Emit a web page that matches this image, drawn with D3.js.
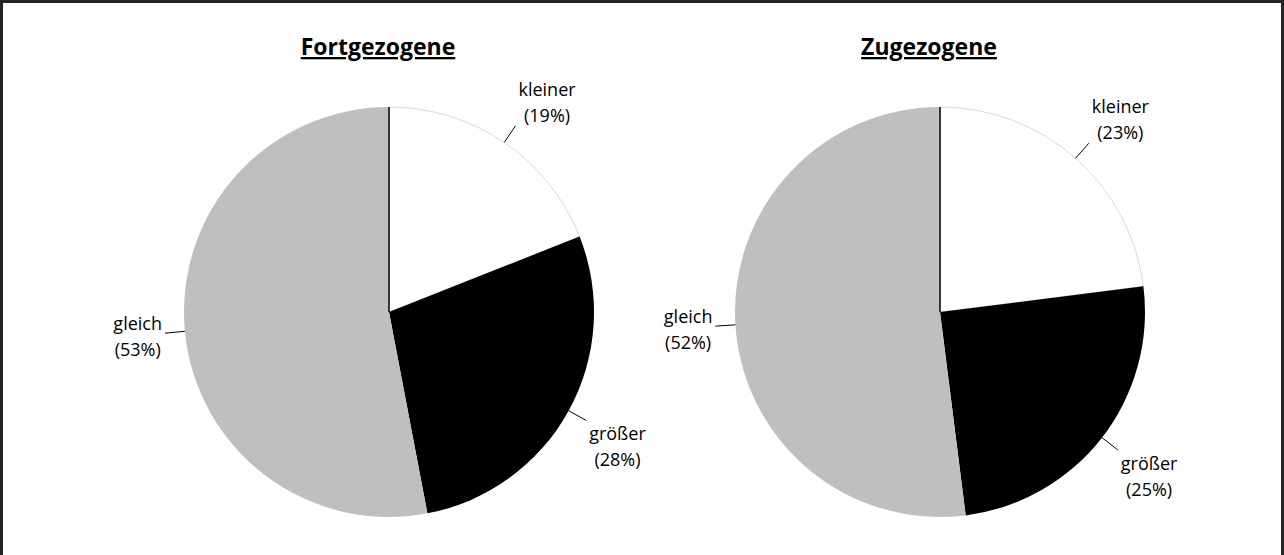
<!DOCTYPE html>
<html lang="de">
    <head>
        <meta charset="utf-8">
        <title>Fortgezogene / Zugezogene</title>
        <script type="text/javascript" src="https://cdnjs.cloudflare.com/ajax/libs/d3/7.8.5/d3.min.js"></script>
        <style type="text/css">
            body { margin: 0; background: #fff; }
            text { font-family: "Open Sans", "DejaVu Sans", sans-serif; fill: #000; }
        </style>
    </head>
    <body>
        <script type="text/javascript">
            var w = 1284;
            var h = 555;

            // data
            var titles = ["Fortgezogene", "Zugezogene"];
            var categories = ["kleiner", "größer", "gleich"];
            var fortgezogene = [19, 28, 53];
            var zugezogene = [23, 25, 52];
            var colors = ["#ffffff", "#000000", "#bfbfbf"];

            var series = [fortgezogene, zugezogene];

            var svg = d3.select("body")
                        .append("svg")
                        .attr("width", w)
                        .attr("height", h);

            // frame
            svg.append("rect")
               .attr("x", 1.5)
               .attr("y", 1.5)
               .attr("width", w - 3)
               .attr("height", h)
               .attr("fill", "none")
               .attr("stroke", "#262626")
               .attr("stroke-width", 3);

            var radius = 205;
            var cy = 312;
            var xPie = d3.scaleLinear().domain([0, 1]).range([389, 940]);

            var pie = d3.pie().sort(null).value(function(d) { return d; });
            var arc = d3.arc().innerRadius(0).outerRadius(radius);
            var lineIn = d3.arc().innerRadius(radius).outerRadius(radius);
            var lineOut = d3.arc().innerRadius(radius + 20).outerRadius(radius + 20);

            series.forEach(function(values, k) {
                var g = svg.append("g")
                           .attr("transform", "translate(" + xPie(k) + "," + cy + ")");

                svg.append("text")
                   .attr("x", xPie(k) - 11)
                   .attr("y", 55)
                   .attr("text-anchor", "middle")
                   .attr("font-size", "23px")
                   .attr("font-weight", "bold")
                   .attr("text-decoration", "underline")
                   .text(titles[k]);

                var arcs = pie(values);

                g.selectAll("path")
                 .data(arcs)
                 .enter()
                 .append("path")
                 .attr("d", arc)
                 .attr("fill", function(d, i) { return colors[i]; })
                 .attr("stroke", function(d, i) { return i == 0 ? "#d9d9d9" : "none"; })
                 .attr("stroke-width", 1);

                // black edge at 12 o'clock
                g.append("line")
                 .attr("x1", 0).attr("y1", 0)
                 .attr("x2", 0).attr("y2", -radius)
                 .attr("stroke", "#000")
                 .attr("stroke-width", 1.5);

                arcs.forEach(function(d, i) {
                    var a = (d.startAngle + d.endAngle) / 2;
                    var p0 = lineIn.centroid(d);
                    var p1 = lineOut.centroid(d);
                    g.append("line")
                     .attr("x1", p0[0]).attr("y1", p0[1])
                     .attr("x2", p1[0]).attr("y2", p1[1])
                     .attr("stroke", "#000")
                     .attr("stroke-width", 1);

                    var t = g.append("text")
                             .attr("text-anchor", "middle")
                             .attr("font-size", "18px");
                    var t1 = t.append("tspan").text(categories[i]);
                    var t2 = t.append("tspan").text("(" + values[i] + "%)");
                    var tw = Math.max(t1.node().getComputedTextLength(), t2.node().getComputedTextLength());
                    var bh = 45;
                    var s = Math.sin(a), c = Math.cos(a);
                    var cx = p1[0] + (s > 0 ? 1 : -1) * (tw / 2 + 3);
                    var ccy;
                    if (c > 0.3) ccy = p1[1] + 1 - bh / 2;
                    else if (c < -0.3) ccy = p1[1] + 6 + bh / 2;
                    else ccy = p1[1] + 5;
                    t1.attr("x", cx).attr("y", ccy - 8.5);
                    t2.attr("x", cx).attr("y", ccy + 17.5);
                });
            });
        </script>
    </body>
</html>
